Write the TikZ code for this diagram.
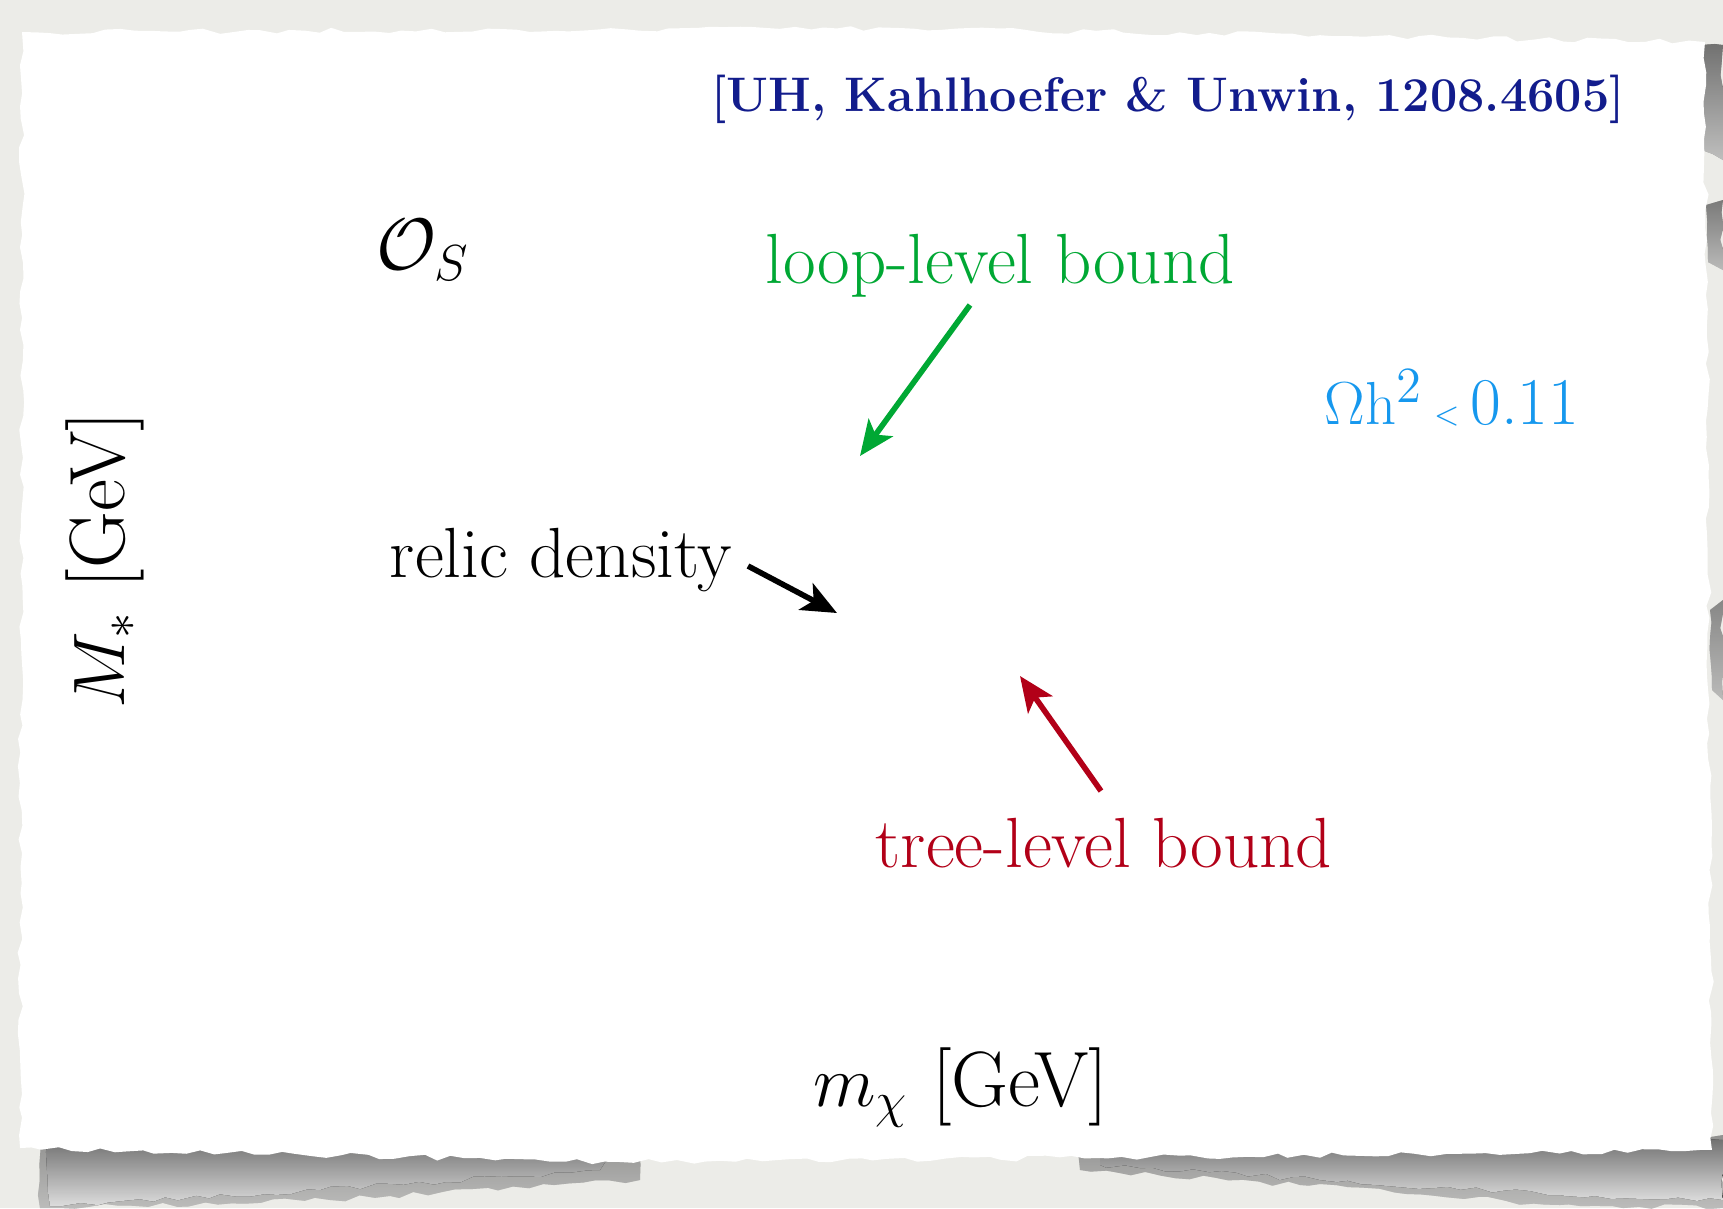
\documentclass[tikz,border=0pt]{standalone}
\usetikzlibrary{arrows.meta,decorations.pathmorphing,positioning}

\definecolor{desk}{RGB}{236,236,232}
\definecolor{shade}{RGB}{72,72,72}
\definecolor{refblue}{RGB}{18,28,140}
\definecolor{loopgreen}{RGB}{0,168,52}
\definecolor{treered}{RGB}{178,0,24}
\definecolor{omegablue}{RGB}{22,152,238}

\begin{document}
\begin{tikzpicture}
    [
    x=0.01cm, y=-0.01cm,
    remark/.style={inner sep=0pt, font=\fontsize{20.2}{24}\selectfont},
    axislabel/.style={inner sep=0pt, font=\fontsize{22.3}{26}\selectfont},
    pointer/.style={line width=1.6pt, -{Stealth[length=10pt,width=8.5pt,inset=2.5pt]}},
    torn/.style={decorate, decoration={random steps, segment length=4pt, amplitude=0.8pt}}
    ]
    \useasboundingbox (0,0) rectangle (1723,1208);
    \fill [desk] (0,0) rectangle (1723,1208);

    % shadows under the sheet
    \pgfmathsetseed{11}
    \fill [shade, opacity=0.35, torn] (40,1135) -- (640,1150) -- (640,1180) -- (330,1200) -- (60,1208) -- (40,1208) -- cycle;
    \fill [shade, opacity=0.85, torn] (48,1140) -- (610,1155) -- (600,1170) -- (320,1190) -- (62,1206) -- (50,1206) -- cycle;
    \fill [shade, opacity=0.35, torn] (1080,1140) -- (1723,1135) -- (1723,1208) -- (1560,1205) -- (1300,1185) -- (1080,1170) -- cycle;
    \fill [shade, opacity=0.85, torn] (1100,1145) -- (1723,1140) -- (1723,1200) -- (1560,1195) -- (1320,1180) -- (1100,1165) -- cycle;
    \fill [shade, opacity=0.6, torn] (1700,45) -- (1723,45) -- (1723,160) -- (1702,150) -- cycle;
    \fill [shade, opacity=0.5, torn] (1706,205) -- (1723,200) -- (1723,270) -- (1708,262) -- cycle;
    \fill [shade, opacity=0.4, torn] (1710,610) -- (1723,600) -- (1723,700) -- (1712,690) -- cycle;

    % the sheet itself
    \fill [white, torn] (22,32) -- (900,28) -- (1705,42) -- (1712,1150) -- (1100,1158) -- (620,1162) -- (20,1148) -- cycle;

    \node (ref) at (1168,99) [inner sep=0pt, text=refblue, font=\fontsize{13.8}{17}\selectfont\bfseries] {[UH, Kahlhoefer \& Unwin, 1208.4605]};
    \node (op) at (423,250) [inner sep=0pt, font=\fontsize{21}{25}\selectfont] {$\mathcal{O}_S$};
    \node (loop) at (1000,266) [remark, text=loopgreen] {loop-level bound};
    \node (omega) at (1452,398) [inner sep=0pt, text=omegablue, font=\fontsize{19}{23}\selectfont] {$\Omega\mathrm{h}^{2}$\,{\small$<$}\,0.11};
    \node (relic) at (561,560) [remark] {relic density};
    \node (tree) at (1104,843) [remark, text=treered] {tree-level bound};
    \node (mstar) at (105,560) [axislabel, rotate=90] {$M_*$ [GeV]};
    \node (mchi) at (961,1088) [axislabel] {$m_\chi$ [GeV]};

    \coordinate (loopTail) at (970,305);
    \coordinate (loopTip) at (860,456);
    \coordinate (relicTail) at (748,566);
    \coordinate (relicTip) at (837,613);
    \coordinate (treeTail) at (1101,791);
    \coordinate (treeTip) at (1020,676);

    \draw [pointer, loopgreen] (loopTail) -- (loopTip);
    \draw [pointer, black] (relicTail) -- (relicTip);
    \draw [pointer, treered] (treeTail) -- (treeTip);
\end{tikzpicture}
\end{document}
